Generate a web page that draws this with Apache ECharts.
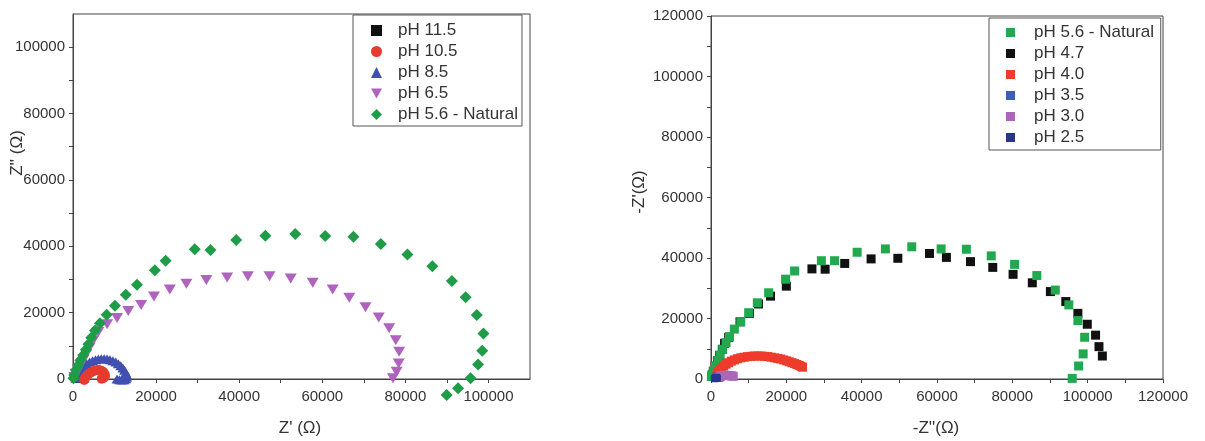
<!DOCTYPE html>
<html>
<head>
<meta charset="utf-8">
<title>Nyquist pH</title>
<script src="https://cdn.jsdelivr.net/npm/echarts@6/dist/echarts.min.js"></script>
<style>
  html, body { margin: 0; padding: 0; background: #fff; }
  #chart { width: 1205px; height: 441px; }
</style>
</head>
<body>
<div id="chart"></div>
<script>
// left panel series, [Z', Z'']
const leftPh115 = [[1500, 0], [1800, 400], [2200, 600], [2600, 500], [2900, 200]];
const leftPh105 = [[2700, -300], [3000, 500], [3500, 1200], [4100, 1800], [4800, 2300], [5500, 2600], [6200, 2700],
  [6800, 2500], [7300, 2100], [7600, 1500], [7700, 900], [7400, 400], [6900, 100]];
const leftPh85 = [[700, 200], [900, 900], [1200, 1700], [1600, 2500], [2100, 3300], [2700, 4000], [3300, 4600],
  [4000, 5100], [4700, 5500], [5400, 5800], [6100, 6000], [6800, 6100], [7500, 6100], [8200, 6000], [8900, 5800],
  [9600, 5500], [10300, 5100], [10900, 4600], [11500, 4000], [12000, 3300], [12400, 2600], [12700, 1900],
  [12900, 1200], [12900, 600], [12700, 100], [12300, -200], [11800, -300], [11200, -200], [10600, 0]];
const leftPh65 = [[300, 600], [700, 1600], [1200, 2800], [1800, 4200], [2500, 5800], [3200, 7500], [4000, 9500],
  [4900, 11700], [6100, 14200], [8200, 16500], [10600, 18400], [13300, 20500], [16400, 22300], [19500, 24900],
  [23300, 27000], [27300, 28700], [32100, 29800], [37100, 30600], [42100, 31000], [47300, 31000], [52400, 30300],
  [57700, 29000], [62500, 27000], [66500, 24500], [70400, 21600], [73600, 18500], [76100, 15300], [77700, 11700],
  [78500, 8200], [78400, 4700], [77900, 2200], [77000, 200]];
const leftNatural = [[100, 200], [300, 1200], [700, 2700], [1300, 4200], [1850, 5700], [2500, 7200], [3100, 8800],
  [3700, 10500], [4400, 12400], [5300, 14600], [6500, 16800], [8100, 19400], [10100, 22100], [12700, 25400],
  [15400, 28400], [19700, 32800], [22300, 35600], [29300, 39100], [33100, 38900], [39300, 41900], [46300, 43200],
  [53500, 43700], [60700, 43100], [67500, 42900], [74100, 40700], [80500, 37500], [86500, 34000], [91200, 29500],
  [94500, 24600], [97200, 19300], [98800, 13700], [98500, 8500], [97500, 4400], [95700, 200], [92700, -2800],
  [89950, -4800]];

// right panel series, [-Z'', -Z']
const rightNatural = [[100, 800], [300, 1500], [700, 2700], [1200, 4300], [1800, 6100], [2400, 7900], [3100, 9800],
  [4000, 12000], [4900, 14000], [6200, 16500], [7900, 18900], [10000, 21900], [12300, 25200], [15300, 28500],
  [19800, 33000], [22200, 35700], [29300, 39100], [32800, 39100], [38800, 41900], [46300, 43000], [53300, 43700],
  [61100, 43000], [67800, 42900], [74400, 40700], [80600, 37900], [86500, 34200], [91400, 29400], [95000, 24500],
  [97400, 19300], [99200, 13800], [98800, 8300], [97600, 4300], [95900, 200]];
const rightPh47 = [[200, 1000], [600, 2500], [1100, 4200], [1700, 6000], [2300, 7800], [3000, 9800], [3600, 11800],
  [4700, 13800], [7700, 18900], [10200, 21700], [12600, 24800], [15800, 27400], [20000, 30700], [26800, 36400],
  [30300, 36300], [35500, 38200], [42500, 39700], [49600, 39900], [58000, 41500], [62500, 40200], [68900, 38800],
  [74800, 36900], [80200, 34600], [85300, 31800], [90100, 28900], [94200, 25600], [97400, 21700], [99900, 18100],
  [102100, 14500], [103000, 10700], [103900, 7600]];
const rightPh40 = [[1400, 600], [1600, 1400], [1900, 2200], [2300, 2900], [2800, 3600], [3400, 4300], [4000, 4900],
  [4700, 5400], [5400, 5900], [6200, 6300], [7000, 6700], [7900, 7000], [8800, 7200], [9700, 7400], [10600, 7500],
  [11500, 7600], [12400, 7600], [13300, 7600], [14200, 7500], [15100, 7400], [16000, 7200], [16900, 7000],
  [17700, 6800], [18500, 6600], [19300, 6300], [20100, 6000], [20800, 5700], [21500, 5400], [22200, 5100],
  [22800, 4800], [23400, 4500], [23900, 4200], [24300, 3900]];
const rightPh35 = [[1300, 300], [1600, 700], [1900, 900], [2200, 800], [2400, 500]];
const rightPh30 = [[2000, 500], [2500, 900], [3000, 1100], [3500, 1200], [4000, 1200], [4500, 1200], [5000, 1100],
  [5500, 1000], [5900, 900]];
const rightPh25 = [[900, 100], [1100, 400], [1300, 600], [1500, 500], [1700, 200]];

// tick labels
const leftTicks = [0, 20000, 40000, 60000, 80000, 100000];
const leftMinor = [0, 10000, 20000, 30000, 40000, 50000, 60000, 70000, 80000, 90000, 100000];
const rightTicks = [0, 20000, 40000, 60000, 80000, 100000, 120000];
const rightMinor = [0, 10000, 20000, 30000, 40000, 50000, 60000, 70000, 80000, 90000, 100000, 110000, 120000];

const FONT = '"Liberation Sans", Arial, sans-serif';
const AXIS_COLOR = '#444';
const DOWN_TRI = 'path://M0,0 L10,0 L5,9 Z';

function axis(gridIndex, max, labels, ticks, margin) {
  return {
    type: 'value',
    gridIndex: gridIndex,
    min: 0,
    max: max,
    splitLine: { show: false },
    axisLine: { show: true, onZero: false, lineStyle: { color: AXIS_COLOR, width: 1 } },
    axisTick: { show: true, inside: false, length: 4, customValues: ticks, lineStyle: { color: AXIS_COLOR } },
    axisLabel: {
      customValues: labels,
      margin: margin,
      color: '#333',
      fontSize: 15,
      fontFamily: FONT,
      formatter: v => String(v), // no thousands separator
    },
  };
}

function scatter(name, data, axisIdx, symbol, size, color) {
  return {
    name: name,
    type: 'scatter',
    xAxisIndex: axisIdx,
    yAxisIndex: axisIdx,
    clip: false,
    symbol: symbol,
    symbolSize: size,
    itemStyle: { color: color, opacity: 1 },
    data: data,
  };
}

const chart = echarts.init(document.getElementById('chart'), null, { renderer: 'canvas' });

chart.setOption({
  animation: false,
  backgroundColor: '#fff',
  grid: [
    { left: 73, top: 14, width: 457, height: 365, show: true, borderColor: AXIS_COLOR, borderWidth: 1 },
    { left: 711, top: 16, width: 452, height: 363, show: true, borderColor: AXIS_COLOR, borderWidth: 1 },
  ],
  xAxis: [
    axis(0, 110000, leftTicks, leftMinor, 10),
    axis(1, 120000, rightTicks, rightMinor, 10),
  ],
  yAxis: [
    axis(0, 110000, leftTicks, leftMinor, 8),
    axis(1, 120000, rightTicks, rightMinor, 8),
  ],
  legend: [
    {
      left: 353,
      top: 15,
      orient: 'vertical',
      itemWidth: 11,
      itemHeight: 11,
      itemGap: 4,
      padding: [7, 4, 3, 18],
      borderColor: '#555',
      borderWidth: 1,
      textStyle: { color: '#333', fontSize: 17, fontFamily: FONT, lineHeight: 16, padding: [0, 0, 0, 11] },
      data: [
        { name: 'pH 11.5', icon: 'rect' },
        { name: 'pH 10.5', icon: 'circle' },
        { name: 'pH 8.5', icon: 'triangle' },
        { name: 'pH 6.5', icon: DOWN_TRI },
        { name: 'pH 5.6 - Natural', icon: 'diamond' },
      ],
    },
    {
      left: 989,
      top: 18,
      orient: 'vertical',
      itemWidth: 9,
      itemHeight: 9,
      itemGap: 4,
      padding: [6, 2, 4, 17],
      borderColor: '#555',
      borderWidth: 1,
      textStyle: { color: '#333', fontSize: 17, fontFamily: FONT, lineHeight: 16, padding: [0, 0, 0, 14] },
      data: [
        { name: 'pH 5.6 - Natural ', icon: 'rect' },
        { name: 'pH 4.7', icon: 'rect' },
        { name: 'pH 4.0', icon: 'rect' },
        { name: 'pH 3.5', icon: 'rect' },
        { name: 'pH 3.0', icon: 'rect' },
        { name: 'pH 2.5', icon: 'rect' },
      ],
    },
  ],
  series: [
    scatter('pH 11.5', leftPh115, 0, 'rect', 8, '#111'),
    scatter('pH 8.5', leftPh85, 0, 'triangle', [11, 9], '#4150b0'),
    scatter('pH 10.5', leftPh105, 0, 'circle', 10, '#e63b2e'),
    scatter('pH 6.5', leftPh65, 0, DOWN_TRI, [12, 10], '#b062bf'),
    scatter('pH 5.6 - Natural', leftNatural, 0, 'diamond', 12, '#1e9c48'),
    // name has a trailing space so the two legends stay apart
    scatter('pH 4.7', rightPh47, 1, 'rect', 9, '#111'),
    scatter('pH 5.6 - Natural ', rightNatural, 1, 'rect', 9, '#22a94f'),
    scatter('pH 4.0', rightPh40, 1, 'rect', 9, '#ee3b2c'),
    scatter('pH 3.5', rightPh35, 1, 'rect', 8, '#3c5db8'),
    scatter('pH 3.0', rightPh30, 1, 'rect', 9, '#ab66b8'),
    scatter('pH 2.5', rightPh25, 1, 'rect', 7, '#26358f'),
  ],
  graphic: [
    { type: 'text', x: 300, y: 428, style: { text: "Z' (\u03A9)", font: '17px ' + FONT, fill: '#333', align: 'center', verticalAlign: 'middle' } },
    { type: 'text', x: 936, y: 428, style: { text: "-Z''(\u03A9)", font: '17px ' + FONT, fill: '#333', align: 'center', verticalAlign: 'middle' } },
    { type: 'text', x: 17, y: 153, rotation: Math.PI / 2, style: { text: "Z'' (\u03A9)", font: '17px ' + FONT, fill: '#333', align: 'center', verticalAlign: 'middle' } },
    { type: 'text', x: 639, y: 192, rotation: Math.PI / 2, style: { text: "-Z'(\u03A9)", font: '17px ' + FONT, fill: '#333', align: 'center', verticalAlign: 'middle' } },
  ],
});

window.onresize = chart.resize;
</script>
</body>
</html>
